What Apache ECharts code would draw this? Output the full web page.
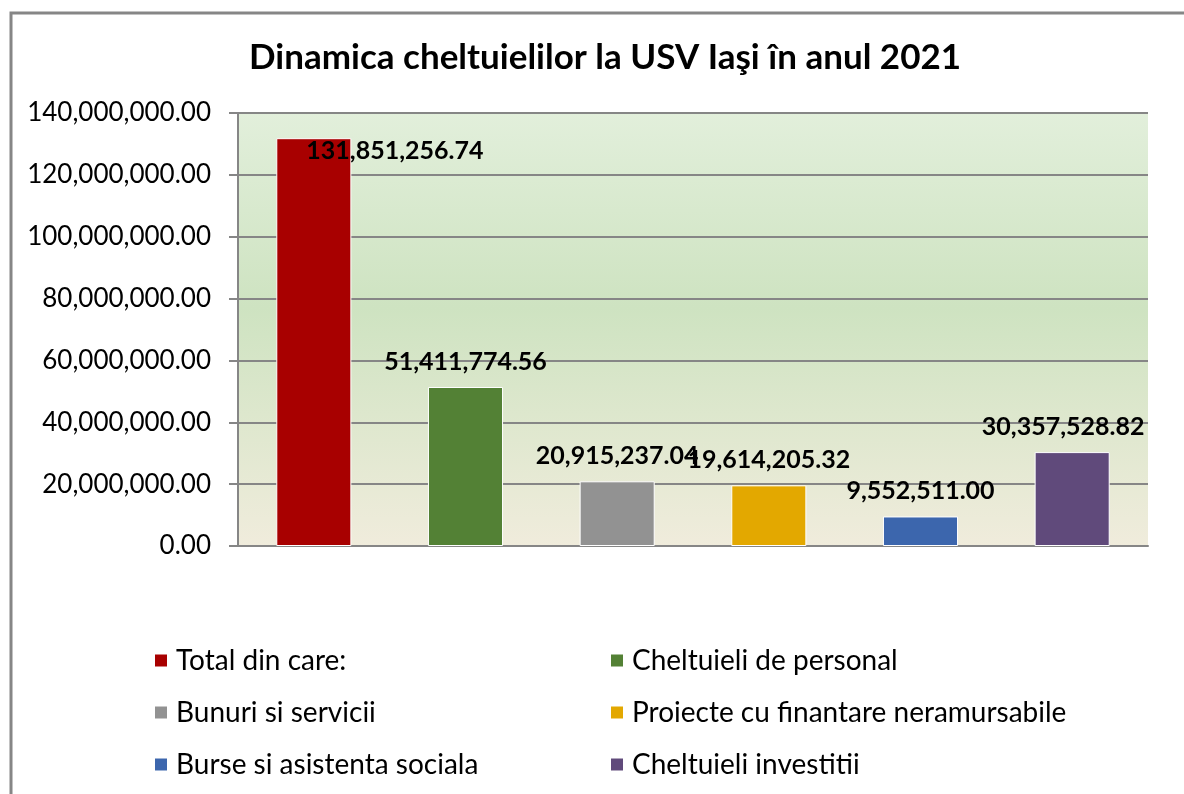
<!DOCTYPE html>
<html>
<head>
<meta charset="utf-8">
<script src="https://cdn.jsdelivr.net/npm/echarts@6/dist/echarts.min.js"></script>
<style>
  html, body { margin: 0; padding: 0; background: #fff; }
  #chart { width: 1184px; height: 794px; }
</style>
</head>
<body>
<div id="chart"></div>
<script>
// date grafic
const titlu = 'Dinamica cheltuielilor la USV Iaşi în anul 2021'
const categorii = [
  'Total din care:',
  'Cheltuieli de personal',
  'Bunuri si servicii',
  'Proiecte cu finantare neramursabile',
  'Burse si asistenta sociala',
  'Cheltuieli investitii'
]
const valori = [131851256.74, 51411774.56, 20915237.04, 19614205.32, 9552511.0, 30357528.82]
const culori = ['#a80000', '#538135', '#929292', '#e3a800', '#3c66ad', '#604a7b']
const axaMin = 0
const axaMax = 140000000
const axaPas = 20000000

const font = 'Lato'
const fmt = v => Number(v).toLocaleString('en-US', { minimumFractionDigits: 2, maximumFractionDigits: 2 })

const myChart = echarts.init(document.getElementById('chart'))

/* eticheta: prima e pusa in bara (ca in Excel), ultima trasa putin spre stanga */
const eticheta = i => {
  const baza = {
    show: true,
    formatter: p => fmt(p.value),
    fontFamily: font,
    fontWeight: 'bold',
    fontSize: 25,
    color: '#000'
  }
  if (i === 0) return Object.assign(baza, { position: [30, 13], align: 'left', verticalAlign: 'middle' })
  if (i === categorii.length - 1) return Object.assign(baza, { position: 'top', distance: 13, offset: [-9, 0] })
  return Object.assign(baza, { position: 'top', distance: 13 })
}

/* cate o serie pe categorie, ca legenda sa arate fiecare bara */
const serii = categorii.map((nume, i) => ({
  name: nume,
  type: 'bar',
  stack: 'total',
  barWidth: '49.5%',
  data: valori.map((v, j) => (j === i ? v : null)),
  itemStyle: { color: culori[i], borderColor: '#ffffff', borderWidth: 1 },
  label: eticheta(i)
}))

const legendaComuna = {
  orient: 'vertical',
  padding: 0,
  itemWidth: 14,
  itemHeight: 14,
  itemGap: 23,
  icon: 'rect',
  textStyle: { fontFamily: font, fontSize: 28, color: '#000', lineHeight: 29, padding: [0, 0, 0, 3] }
}

myChart.setOption({
  backgroundColor: '#ffffff',
  animation: false,
  title: {
    text: titlu,
    left: 249,
    top: 40,
    padding: 0,
    textStyle: { fontFamily: font, fontWeight: 'bold', fontSize: 35, color: '#000' }
  },
  legend: [
    Object.assign({}, legendaComuna, { left: 153, top: 646, data: [categorii[0], categorii[2], categorii[4]] }),
    Object.assign({}, legendaComuna, { left: 609, top: 646, data: [categorii[1], categorii[3], categorii[5]] })
  ],
  grid: {
    left: 238,
    right: 36,
    top: 113,
    bottom: 248,
    show: true,
    borderWidth: 0,
    backgroundColor: new echarts.graphic.LinearGradient(0, 0, 0, 1, [
      { offset: 0, color: '#e2efdb' },
      { offset: 0.45, color: '#cee3c1' },
      { offset: 1, color: '#f0ecdc' }
    ])
  },
  xAxis: {
    type: 'category',
    data: categorii,
    axisLine: { lineStyle: { color: '#868686', width: 2 } },
    axisTick: { show: false },
    axisLabel: { show: false }
  },
  yAxis: {
    type: 'value',
    min: axaMin,
    max: axaMax,
    interval: axaPas,
    axisLine: { show: true, lineStyle: { color: '#868686', width: 2 } },
    axisTick: { show: true, length: 9, lineStyle: { color: '#868686', width: 2 } },
    splitLine: { lineStyle: { color: '#868686', width: 2 } },
    axisLabel: {
      formatter: fmt,
      margin: 27,
      fontFamily: font,
      fontSize: 26,
      color: '#000'
    }
  },
  graphic: [
    {
      type: 'rect',
      shape: { x: 11, y: 13, width: 1300, height: 900 },
      style: { fill: 'none', stroke: '#868686', lineWidth: 3 },
      silent: true
    }
  ],
  series: serii
})
</script>
</body>
</html>
